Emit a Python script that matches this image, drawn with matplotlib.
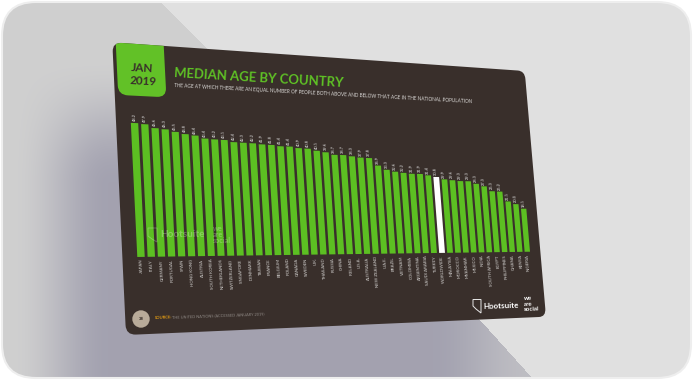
import numpy as np
import matplotlib
matplotlib.use('Agg')
import matplotlib.pyplot as plt
from matplotlib.patches import FancyBboxPatch, Circle, Polygon
from matplotlib.path import Path
from matplotlib.transforms import Transform, Affine2D

# Datos
paises = ['JAPAN', 'ITALY', 'GERMANY', 'PORTUGAL', 'SPAIN', 'HONG KONG', 'AUSTRIA',
          'SOUTH KOREA', 'NETHERLANDS', 'SWITZERLAND', 'SINGAPORE', 'DENMARK', 'TAIWAN',
          'FRANCE', 'BELGIUM', 'POLAND', 'CANADA', 'SWEDEN', 'U.K.', 'THAILAND', 'RUSSIA',
          'CHINA', 'IRELAND', 'U.S.A.', 'AUSTRALIA', 'NEW ZEALAND', 'U.A.E.', 'BRAZIL',
          'VIETNAM', 'COLOMBIA', 'ARGENTINA', 'SAUDI ARABIA', 'TURKEY', 'WORLDWIDE',
          'MALAYSIA', 'MOROCCO', 'MYANMAR', 'MEXICO', 'INDIA', 'SOUTH AFRICA', 'EGYPT',
          'PHILIPPINES', 'GHANA', 'KENYA', 'NIGERIA']
edades = [48.2, 47.9, 46.6, 46.3, 45.5, 44.8, 44.4, 43.4, 43.2, 43.1, 42.4, 42.3, 42.2,
          41.9, 41.8, 41.4, 41.4, 40.9, 40.8, 40.1, 39.6, 38.7, 38.7, 38.3, 37.9, 37.8,
          34.9, 33.3, 32.6, 32.2, 31.9, 31.9, 31.4, 30.8, 29.9, 29.6, 29.3, 29.3, 28.3,
          27.3, 25.3, 25.2, 21.1, 20.0, 18.1]
destacado = 'WORLDWIDE'

titulo = 'MEDIAN AGE BY COUNTRY'
subtitulo = ('THE AGE AT WHICH THERE ARE AN EQUAL NUMBER OF PEOPLE BOTH ABOVE AND BELOW '
             'THAT AGE IN THE NATIONAL POPULATION')
fuente = 'THE UNITED NATIONS (ACCESSED JANUARY 2019)'

VERDE = '#5cbf22'
OSCURO = '#392f2b'

plt.rcParams['font.family'] = ['Lato', 'DejaVu Sans']


# Homografia: la diapositiva (0..1000 x 0..600) pasa a pixeles de la imagen
def homografia(origen, destino):
    A, b = [], []
    for (u, v), (x, y) in zip(origen, destino):
        A.append([u, v, 1, 0, 0, 0, -u * x, -v * x])
        A.append([0, 0, 0, u, v, 1, -u * y, -v * y])
        b += [x, y]
    h = np.linalg.solve(np.array(A, float), np.array(b, float))
    return np.append(h, 1).reshape(3, 3)


class Perspectiva(Transform):
    input_dims = 2
    output_dims = 2
    is_separable = False
    has_inverse = False

    def __init__(self, H):
        super().__init__()
        self.H = H

    def transform_non_affine(self, values):
        values = np.asarray(values, float)
        p = np.column_stack([values, np.ones(len(values))]) @ self.H.T
        return p[:, :2] / p[:, 2:]


H = homografia([(0, 0), (1000, 0), (1000, 600), (0, 600)],
               [(112.3, 42.3), (524.7, 71), (546, 316.7), (126, 335)])
Hinv = np.linalg.inv(H)
persp = Perspectiva(H)


def a_diapo(x, y):
    p = Hinv @ np.array([x, y, 1.0])
    return p[:2] / p[2]


fig = plt.figure(figsize=(6.94, 3.80), dpi=100, facecolor='white')
ax = fig.add_axes([0, 0, 1, 1])
ax.set_axis_off()
ax.set_xlim(0, 694)
ax.set_ylim(380, 0)

# Fondo: tarjeta gris con sombra lila
yy, xx = np.mgrid[0:380, 0:694] + 0.5


def suave(t):
    t = np.clip(t, 0, 1)
    return t * t * (3 - 2 * t)


t = suave((xx - 10) / 100) * suave((yy - 55) / 130)
t = t * (1 - 0.6 * suave((xx - 430) / 100))
gris = np.array([0.815, 0.815, 0.815])
lila = np.array([0.640, 0.635, 0.690])
fondo = np.ones((380, 694, 3)) * (0xe0 / 255)
sombra = Path([(0, 0), (158, 0), (205, 47), (480, 320), (534, 380), (0, 380)])
dentro = sombra.contains_points(np.column_stack([xx.ravel(), yy.ravel()])).reshape(xx.shape)
mezcla = gris[None, None, :] * (1 - t[..., None]) + lila[None, None, :] * t[..., None]
fondo[dentro] = mezcla[dentro]
im = ax.imshow(fondo, extent=(0, 694, 380, 0), aspect='auto', zorder=0)
ax.set_xlim(0, 694)
ax.set_ylim(380, 0)
tarjeta = FancyBboxPatch((2, 2), 689, 376, boxstyle='round,pad=0,rounding_size=34',
                         transform=ax.transData, fc='none', ec='#eeeeee', lw=1.5, zorder=1)
ax.add_patch(tarjeta)
im.set_clip_path(tarjeta)

# Diapositiva
tf = persp + ax.transData
diapo = FancyBboxPatch((0, 0), 1000, 600, boxstyle='round,pad=0,rounding_size=20',
                       fc=OSCURO, ec='none', transform=tf, zorder=2)
ax.add_patch(diapo)
caja = FancyBboxPatch((7, -40), 100, 150, boxstyle='round,pad=0,rounding_size=20',
                      fc='#62c127', ec='none', transform=tf, zorder=3)
ax.add_patch(caja)
caja.set_clip_path(diapo)

# Barras: x = indice, y = edad, colocadas en la diapositiva
u0, v0 = a_diapo(137.3, 257.0)
u1, v1 = a_diapo(530.0, 251.7)
_, vtop = a_diapo(133.5, 123.0)
n = len(paises)
paso = (u1 - u0) / (n - 1 + 0.72)
escala = (v0 - vtop) / edades[0]
tf_barras = Affine2D().scale(paso, -escala).translate(u0 + 0.36 * paso, (v0 + v1) / 2) + tf

posiciones = np.arange(n)
colores = ['white' if p == destacado else VERDE for p in paises]
ax.bar(posiciones, edades, width=0.72, color=colores, transform=tf_barras, zorder=4)
ax.set_xlim(0, 694)
ax.set_ylim(380, 0)


def texto(x, y, s, size, vertical=False, **kw):
    # texto real, girado segun la perspectiva local
    u, v = a_diapo(x, y)
    fin = (u, v - 10) if vertical else (u + 10, v)
    a, b = persp.transform_non_affine(np.array([(u, v), fin]))
    ang = np.degrees(np.arctan2(-(b[1] - a[1]), b[0] - a[0]))
    return ax.text(x, y, s, fontsize=size, rotation=ang, rotation_mode='anchor', zorder=6, **kw)


# Etiquetas de valor y de pais
invertir = ax.transData.inverted()
for i, (p, e) in enumerate(zip(paises, edades)):
    xp, yp = invertir.transform(tf_barras.transform((i, e + 0.7)))
    xb, yb = invertir.transform(tf_barras.transform((i, -1.0)))
    texto(xp, yp, f'{e:.1f}', 2.9, vertical=True, color='#e6e6e6', ha='left', va='center')
    texto(xb, yb, p, 3.15, vertical=True, color='#cfcdcb', ha='right', va='center')

# Titulos
texto(142, 68.5, 'JAN', 8.4, color=OSCURO, weight='bold', ha='center', va='center')
texto(143, 81.5, '2019', 8.4, color=OSCURO, weight='bold', ha='center', va='center')
texto(174, 73, titulo, 9.45, color='#5fc225', weight='bold', ha='left', va='center')
texto(174, 85.5, subtitulo, 3.42, color='#dad8d6', ha='left', va='center')

# Pie
ax.add_patch(Circle((141, 319), 8.7, fc='#b8aa99', ec='none', zorder=5))
texto(141, 319.3, '38', 3.2, color=OSCURO, weight='bold', ha='center', va='center')
texto(154.5, 318.5, 'SOURCE:', 3.0, color='#e09a14', weight='bold', ha='left', va='center')
texto(172, 317.8, fuente, 2.75, color='#8f8985', ha='left', va='center')

# Logos
escudo = [(473, 299.5), (481, 299.5), (481, 313), (476, 309), (473, 306)]
ax.add_patch(Polygon(escudo, closed=True, fc='none', ec='#e8e8e8', lw=0.7, zorder=6))
texto(483, 306.3, 'Hootsuite', 5.8, color='white', weight='bold', ha='left', va='center')
for y, s in zip((299, 304.5, 310), ('we', 'are', 'social')):
    texto(524, y, s, 4.4, color='white', weight='bold', ha='left', va='center')

# Marca de agua sobre las barras
ax.add_patch(Polygon([(148, 228), (157, 228), (157, 242), (152, 239), (148, 236)], closed=True,
                     fc='none', ec='white', alpha=0.25, lw=0.7, zorder=5))
texto(160, 235, 'Hootsuite', 7.2, color='white', alpha=0.28, weight='bold', ha='left', va='center')
for y, s in zip((229, 235, 241), ('we', 'are', 'social')):
    texto(213, y, s, 5.2, color='white', alpha=0.25, weight='bold', ha='left', va='center')

fig.savefig('out.png', dpi=100)
